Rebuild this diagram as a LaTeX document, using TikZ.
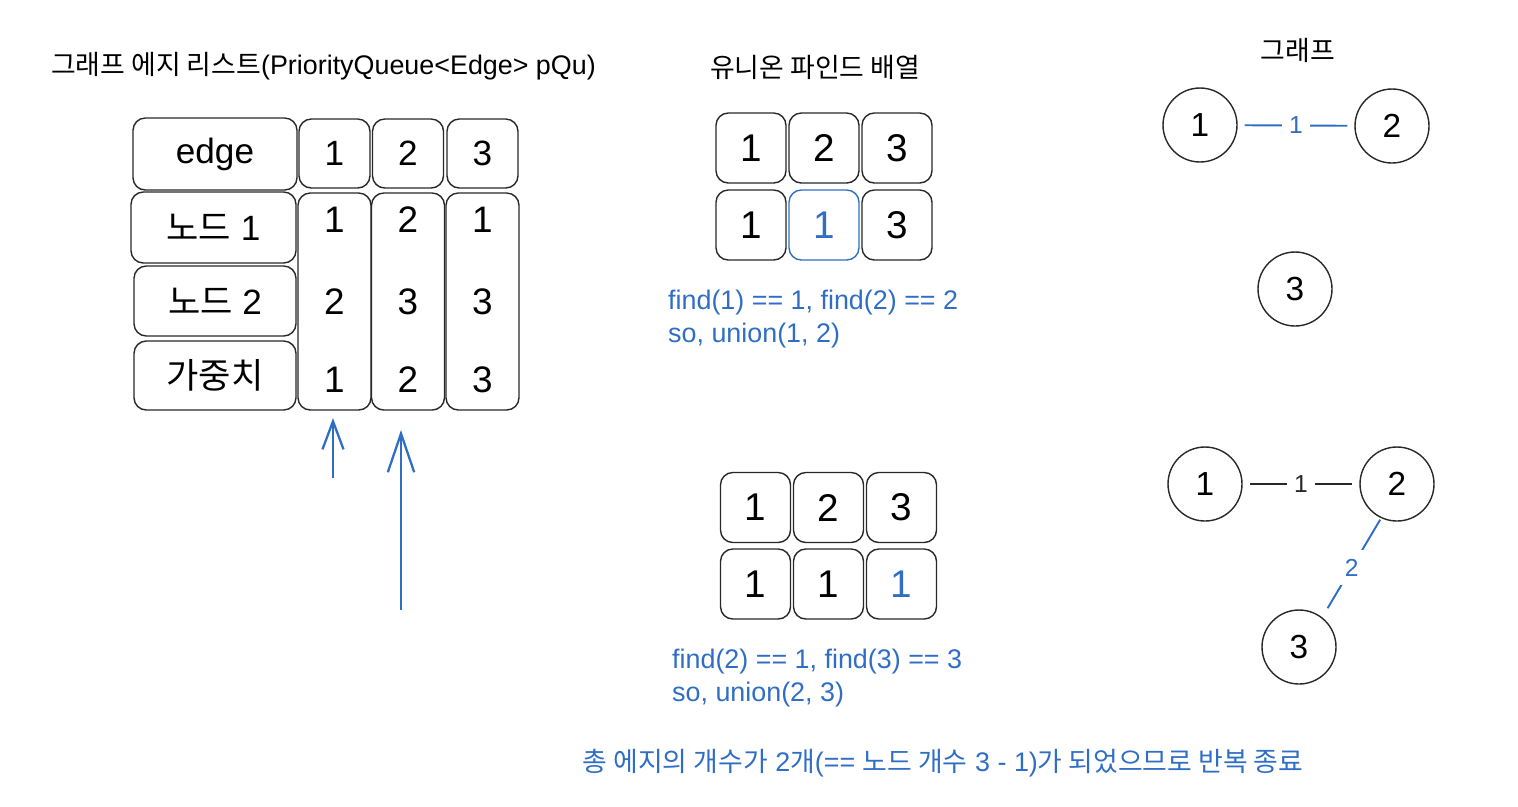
\documentclass[tikz,border=0pt]{standalone}
\usepackage{fontspec}
\setmainfont{Liberation Sans}
\newfontfamily\kr{Noto Sans CJK KR}
\usetikzlibrary{arrows.meta}
\definecolor{ublue}{RGB}{48,110,198}
\definecolor{uline}{RGB}{40,40,40}
\def\px{0.02cm}

\tikzset{
  box/.style={draw=uline, line width=0.8pt, rounded corners=7pt, inner sep=0pt},
  cell/.style={box, minimum width=70*\px, minimum height=70*\px, font=\fontsize{22}{22}\selectfont},
  tcell/.style={box, font=\fontsize{20}{20}\selectfont},
  val/.style={font=\fontsize{21}{21}\selectfont},
  gnode/.style={circle, draw=uline, line width=0.8pt, minimum size=74*\px, inner sep=0pt, font=\fontsize{19}{19}\selectfont},
  note/.style={ublue, font=\fontsize{15.3}{18.7}\selectfont, align=left},
  title/.style={font=\fontsize{15.3}{15.3}\selectfont},
  wlab/.style={fill=white, inner sep=4pt, font=\fontsize{14}{14}\selectfont},
  uparrow/.style={ublue, line width=1.3pt}
}

\begin{document}
\begin{tikzpicture}[x=0.02cm, y=-0.02cm]
  \useasboundingbox (0,0) rectangle (1518,806);

  %edge list table
  \node[title, anchor=west] (t1) at (45,66) {{\kr 그래프 에지 리스트}(PriorityQueue<Edge> pQu)};
  \node[tcell, minimum width=164*\px, minimum height=72*\px] (edge) at (215,154) {edge};
  \node[tcell, minimum width=165*\px, minimum height=71*\px] (n1) at (213.5,227.5) {{\kr 노드} 1};
  \node[tcell, minimum width=162*\px, minimum height=70*\px] (n2) at (215,301) {{\kr 노드} 2};
  \node[tcell, minimum width=162*\px, minimum height=69*\px] (w) at (215,375.5) {\kr 가중치};
  \foreach \x/\v in {334.5/1, 408/2, 482.5/3}{
    \node[tcell, minimum width=71*\px, minimum height=69*\px] (h\v) at (\x,153.5) {\v};
    \node[box, minimum width=73*\px, minimum height=217*\px] (c\v) at (\x,301.5) {};
  }
  \foreach \v/\a/\b/\c in {1/1/2/1, 2/2/3/2, 3/1/3/3}{
    \node[val] (v\v a) at ([yshift=81.5*\px]c\v.center) {\a};
    \node[val] (v\v b) at (c\v.center) {\b};
    \node[val] (v\v c) at ([yshift=-78.5*\px]c\v.center) {\c};
  }

  %pointers
  \coordinate (p1s) at (333,478);
  \coordinate (p1e) at (333,418);
  \coordinate (p2s) at (401,610);
  \coordinate (p2e) at (401,430);
  \draw[uparrow, -{Straight Barb[length=16pt, width=12pt]}] (p1s) -- (p1e);
  \draw[uparrow, -{Straight Barb[length=22pt, width=15pt]}] (p2s) -- (p2e);

  %union find arrays
  \node[title] (t2) at (815,67) {\kr 유니온 파인드 배열};
  \foreach \v [count=\i] in {1,2,3}
    \node[cell] (a\i) at ({751+73*(\i-1)},148) {\v};
  \node[cell] (b1) at (751,225) {1};
  \node[cell, draw=ublue, text=ublue] (b2) at (824,225) {1};
  \node[cell] (b3) at (897,225) {3};
  \node[note, anchor=north west] (f1) at (662,284) {find(1) == 1, find(2) == 2\\so, union(1, 2)};

  \foreach \v [count=\i] in {1,2,3}
    \node[cell] (d\i) at ({755.5+73*(\i-1)},507.5) {\v};
  \node[cell] (e1) at (755.5,584) {1};
  \node[cell] (e2) at (828.5,584) {1};
  \node[cell, text=ublue] (e3) at (901.5,584) {1};
  \node[note, anchor=north west] (f2) at (666,643) {find(2) == 1, find(3) == 3\\so, union(2, 3)};

  %graphs
  \node[title] (t3) at (1298,50) {\kr 그래프};
  \node[gnode] (g1) at (1200,125) {1};
  \node[gnode] (g2) at (1392,126) {2};
  \node[gnode] (g3) at (1295,289) {3};
  \draw[ublue, line width=1.1pt, shorten <=4pt, shorten >=4pt] (g1) -- node[wlab] {1} (g2);

  \node[gnode] (k1) at (1205,484) {1};
  \node[gnode] (k2) at (1397,484) {2};
  \node[gnode] (k3) at (1299,647) {3};
  \draw[uline, line width=1.1pt, shorten <=4pt, shorten >=4pt] (k1) -- node[wlab, text=uline] {1} (k2);
  \draw[ublue, line width=1.1pt, shorten <=1pt, shorten >=6pt] (k2.245) -- node[wlab, inner sep=5pt] {2} (k3.52);

  \node[title, ublue] (done) at (943,763) {{\kr 총 에지의 개수가} 2{\kr 개}(== {\kr 노드 개수} 3 - 1){\kr 가 되었으므로 반복 종료}};
\end{tikzpicture}
\end{document}
